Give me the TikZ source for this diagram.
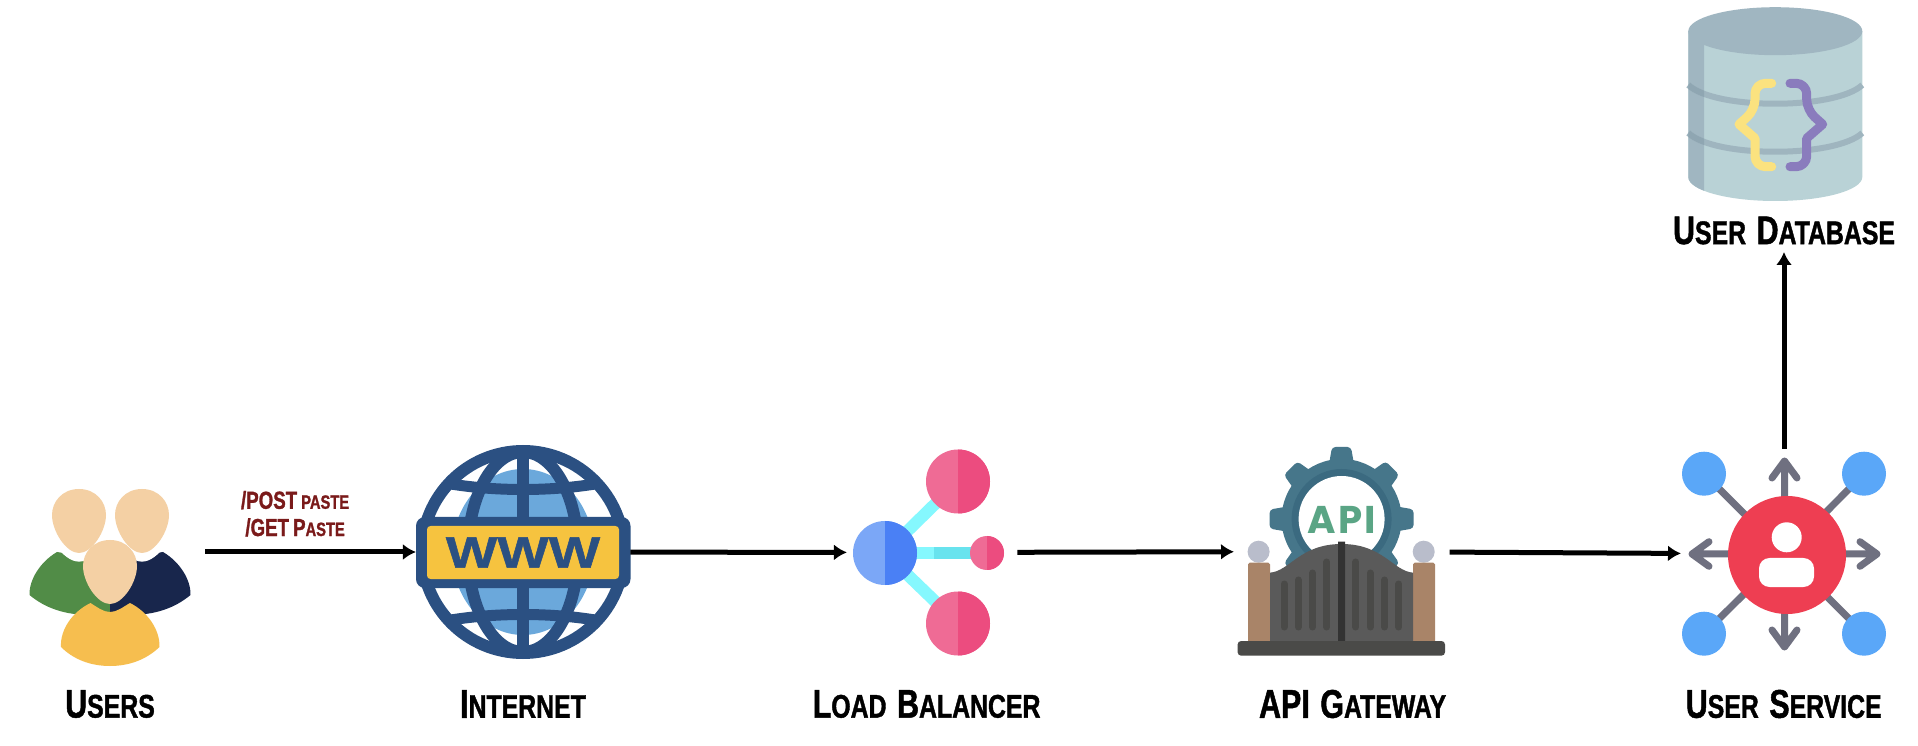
\documentclass[tikz,border=0pt]{standalone}
\usepackage{fontspec}
\usepackage{tikz}
\usetikzlibrary{calc, arrows.meta, positioning}

\newfontfamily\lblfont[FakeStretch=0.76,BoldFeatures={FakeBold=1.2}]{Liberation Sans}
\newfontfamily\apifont[LetterSpace=6]{Poppins}
\newfontfamily\wwwfont[FakeBold=1]{Liberation Sans Bold}
\def\pxu{0.02cm}
% big first letter, smaller rest
\newcommand{\lbltxt}[2]{{\fontsize{22.8}{24}\selectfont #1}{\fontsize{18.6}{20}\selectfont\MakeUppercase{#2}}}
\newcommand{\routetxt}[2]{{\fontsize{14}{16}\selectfont #1}{\fontsize{11}{16}\selectfont\MakeUppercase{#2}}}
\newcommand{\wgap}{\hspace{6pt}}

\definecolor{skin}{HTML}{F4D0A4}
\definecolor{shirtgreen}{HTML}{518C47}
\definecolor{shirtnavy}{HTML}{18264C}
\definecolor{shirtyellow}{HTML}{F6BE4F}
\definecolor{globenavy}{HTML}{2B5082}
\definecolor{globeblue}{HTML}{6BA8DB}
\definecolor{banneryellow}{HTML}{F6C33F}
\definecolor{routered}{HTML}{7A1A1A}
\definecolor{nodeblueA}{HTML}{7BA7F7}
\definecolor{nodeblueB}{HTML}{4A80F5}
\definecolor{nodepinkA}{HTML}{EF6B95}
\definecolor{nodepinkB}{HTML}{EC4C7F}
\definecolor{linkcyanA}{HTML}{85F8FE}
\definecolor{linkcyanB}{HTML}{68E3EE}
\definecolor{gearouter}{HTML}{46768A}
\definecolor{gearinner}{HTML}{3B6A80}
\definecolor{gategrey}{HTML}{5A5A5A}
\definecolor{gatebar}{HTML}{4A4A48}
\definecolor{gatepost}{HTML}{333333}
\definecolor{pillar}{HTML}{A98468}
\definecolor{ballgrey}{HTML}{B9BDCB}
\definecolor{apigreen}{HTML}{5AA585}
\definecolor{svcred}{HTML}{EE3E52}
\definecolor{svcblue}{HTML}{5AA7F8}
\definecolor{svcgrey}{HTML}{6F7080}
\definecolor{dbbody}{HTML}{B9D2D6}
\definecolor{dbtop}{HTML}{A0B6C1}
\definecolor{dbband}{HTML}{9FB5BF}
\definecolor{dbbandB}{HTML}{8FA6B2}
\definecolor{braceyellow}{HTML}{FBE27F}
\definecolor{bracepurple}{HTML}{8A7CBD}

\begin{document}
\begin{tikzpicture}[x=0.02cm, y=-0.02cm, >={Latex[length=2.6mm,width=3.2mm]}]
	\tikzstyle{iconbox} = [draw=none, inner sep=0pt, outer sep=0pt, minimum height=30*\pxu]
	\tikzstyle{lbl} = [font=\lblfont\bfseries, inner sep=0pt, text=black]
	\tikzstyle{flow} = [->, line width=5*\pxu, black]
	\tikzstyle{route} = [font=\lblfont\bfseries, text=routered, align=center, inner sep=0pt]
	\tikzstyle{grayarm} = [draw=svcgrey, line width=7*\pxu, line cap=round, line join=round]
	\tikzstyle{gatestripe} = [draw=gatebar, line width=7*\pxu, line cap=round]
	\tikzstyle{brace} = [line width=9*\pxu, line cap=round, line join=round, rounded corners=6pt]

	\useasboundingbox (0,0) rectangle (1918,746);
	\fill[white] (0,0) rectangle (1918,746);

	% users
	\fill[shirtgreen] (57,552) .. controls (40,562) and (29,580) .. (29.5,595) .. controls (45,608) and (65,615) .. (90,615) -- (110,612) -- (110,560) -- cycle;
	\fill[shirtnavy] (163,552) .. controls (180,562) and (191,580) .. (190.5,595) .. controls (175,608) and (155,615) .. (130,615) -- (110,612) -- (110,560) -- cycle;
	\foreach \hx/\hy/\hs/\hc in {79/521/1.27/white, 142/521/1.27/white, 79/521/1/skin, 142/521/1/skin} {
		\fill[\hc, shift={(\hx,\hy)}, scale=\hs] (0,-32) .. controls (17,-32) and (27,-19) .. (27,-6) .. controls (27,10) and (13,32) .. (0,32) .. controls (-13,32) and (-27,10) .. (-27,-6) .. controls (-27,-19) and (-17,-32) .. (0,-32) -- cycle;
	}
	\fill[shirtyellow] (90.5,603) .. controls (97,607) and (103,612) .. (110,612) .. controls (117,612) and (123,607) .. (130,603) .. controls (148,612) and (160,630) .. (159.5,647) .. controls (147,659) and (130,666) .. (110,666) .. controls (90,666) and (73,659) .. (61,647) .. controls (60,630) and (72,612) .. (90.5,603) -- cycle;
	\fill[skin, shift={(110,572)}] (0,-32) .. controls (17,-32) and (27,-19) .. (27,-6) .. controls (27,10) and (13,32) .. (0,32) .. controls (-13,32) and (-27,10) .. (-27,-6) .. controls (-27,-19) and (-17,-32) .. (0,-32) -- cycle;

	% internet
	\fill[white] (523,552) circle [radius=101];
	\fill[globeblue] (523,552) ellipse [x radius=71, y radius=83];
	\draw[globenavy, line width=12*\pxu] (523,552) circle [radius=101];
	\begin{scope}
		\clip (523,552) circle [radius=101];
		\draw[globenavy, line width=12*\pxu] (523,552) ellipse [x radius=55, y radius=100];
		\draw[globenavy, line width=12*\pxu] (523,450) -- (523,654);
		\draw[globenavy, line width=11*\pxu] (440,482) .. controls (490,492) and (556,492) .. (606,482);
		\draw[globenavy, line width=11*\pxu] (440,622) .. controls (490,612) and (556,612) .. (606,622);
	\end{scope}
	\fill[globenavy, rounded corners=5pt] (416,517) rectangle (630.5,588);
	\fill[banneryellow, rounded corners=2pt] (427,526) rectangle (619,579);
	\node[font=\wwwfont\fontsize{25}{25}\selectfont, text=globenavy, inner sep=0pt, xscale=1.24] at (523,552.5) (wwwtext) {WWW};

	% load balancer
	\draw[linkcyanA, line width=12*\pxu] (885,553) -- (958,481.5);
	\draw[linkcyanA, line width=12*\pxu] (885,553) -- (958,623.5);
	\draw[linkcyanA, line width=12*\pxu] (885,553) -- (934,553);
	\draw[linkcyanB, line width=12*\pxu] (934,553) -- (987,553);
	\foreach \cx/\cy/\cr/\ca/\cb in {885/553/32/nodeblueA/nodeblueB, 958/481.5/32/nodepinkA/nodepinkB, 958/623.5/32/nodepinkA/nodepinkB, 987/553/17/nodepinkA/nodepinkB} {
		\fill[\ca] (\cx,\cy) circle [radius=\cr];
		\begin{scope}
			\clip (\cx,\cy-40) rectangle (\cx+40,\cy+40);
			\fill[\cb] (\cx,\cy) circle [radius=\cr];
		\end{scope}
	}

	% api gateway
	\foreach \a in {0,45,...,315} {
		\fill[gearouter, rounded corners=2pt, rotate around={\a:(1341.6,519)}] (1328,470) -- (1332,447) -- (1351,447) -- (1355,470) -- cycle;
	}
	\fill[gearouter] (1341.6,519) circle [radius=60];
	\fill[gearinner] (1341.6,519) circle [radius=50];
	\fill[white] (1341.6,519) circle [radius=43];
	\node[font=\apifont\bfseries\fontsize{22}{22}\selectfont, text=apigreen, inner sep=0pt] at (1341.6,520) (apitext) {API};
	\fill[ballgrey] (1258.6,551.7) circle [radius=11];
	\fill[ballgrey] (1423.7,551.7) circle [radius=11];
	\fill[pillar, rounded corners=1pt] (1248,562.7) rectangle (1270,645);
	\fill[pillar, rounded corners=1pt] (1413,562.7) rectangle (1435,645);
	\fill[gategrey] (1270,572.7) .. controls (1290,571) and (1300,544) .. (1341.6,544) .. controls (1383,544) and (1393,571) .. (1413,572.7) -- (1413,645) -- (1270,645) -- cycle;
	\foreach \bx/\by in {1284/584, 1298.4/580, 1312.6/573, 1326.9/562, 1355.9/562, 1370.2/573, 1384.5/580, 1398.8/584} {
		\draw[gatestripe] (\bx,\by) -- (\bx,627);
	}
	\fill[gatepost] (1338,545) -- (1338,541.7) -- (1345,541.7) -- (1345,641) -- (1338,641) -- cycle;
	\fill[gatebar, rounded corners=2pt] (1237.6,641) rectangle (1445,655.7);

	% user service
	\foreach \dx/\dy in {1704/473.7, 1864/473.7, 1704/633.7, 1864/633.7} {
		\draw[svcgrey, line width=7*\pxu] (1784.5,554) -- (\dx,\dy);
		\fill[svcblue] (\dx,\dy) circle [radius=22];
	}
	\draw[grayarm] (1784.5,554) -- (1784.5,461) (1772,478) -- (1784.5,461) -- (1797,478);
	\draw[grayarm] (1784.5,554) -- (1784.5,647) (1772,630) -- (1784.5,647) -- (1797,630);
	\draw[grayarm] (1784.5,554) -- (1692,554) (1709,541.7) -- (1692,554) -- (1709,566.3);
	\draw[grayarm] (1784.5,554) -- (1877,554) (1860,541.7) -- (1877,554) -- (1860,566.3);
	\fill[svcred] (1787,555) circle [radius=59];
	\fill[white] (1786.7,537.3) circle [radius=15];
	\fill[white, rounded corners=6pt] (1759,558) rectangle (1814,587);

	% user database
	\fill[dbbody] (1688.3,31.2) -- (1688.3,177) arc [start angle=180, end angle=360, x radius=87, y radius=-24] -- (1862.3,31.2) -- cycle;
	\begin{scope}
		\clip (1688.3,31.2) rectangle (1704,210);
		\fill[dbtop] (1688.3,31.2) -- (1688.3,177) arc [start angle=180, end angle=360, x radius=87, y radius=-24] -- (1862.3,31.2) -- cycle;
	\end{scope}
	\fill[dbtop] (1775.3,31.2) ellipse [x radius=87, y radius=24];
	\draw[dbband, line width=6*\pxu] (1688.3,85) .. controls (1715,110) and (1835,110) .. (1862.3,85);
	\draw[dbband, line width=6*\pxu] (1688.3,133) .. controls (1715,158) and (1835,158) .. (1862.3,133);
	\begin{scope}
		\clip (1688.3,31.2) rectangle (1704,210);
		\draw[dbbandB, line width=6*\pxu] (1688.3,85) .. controls (1715,110) and (1835,110) .. (1862.3,85);
		\draw[dbbandB, line width=6*\pxu] (1688.3,133) .. controls (1715,158) and (1835,158) .. (1862.3,133);
	\end{scope}
	\draw[brace, braceyellow] (1771.7,83.3) -- (1755,83.3) -- (1755,110) [sharp corners] -- (1739,124.3) -- (1755,138.3) [rounded corners=6pt] -- (1755,166.7) -- (1771.7,166.7);
	\draw[brace, bracepurple] (1790,83.3) -- (1806.7,83.3) -- (1806.7,110) [sharp corners] -- (1822.7,124.3) -- (1806.7,138.3) [rounded corners=6pt] -- (1806.7,166.7) -- (1790,166.7);

	% anchors for the connectors
	\node[iconbox, minimum width=175*\pxu] at (117.5,552) (users) {};
	\node[iconbox, minimum width=214.5*\pxu] at (523.2,552) (internet) {};
	\node[iconbox, minimum width=170.5*\pxu] at (932.2,552.5) (balancer) {};
	\node[iconbox, minimum width=215.6*\pxu] at (1341.8,551.5) (gateway) {};
	\node[iconbox, minimum width=206*\pxu, minimum height=210*\pxu] at (1784,554) (service) {};
	\node[iconbox, minimum width=222*\pxu, minimum height=244*\pxu] at (1784,130) (database) {};

	\node[lbl] at (110,704) (userslbl) {\lbltxt{U}{sers}};
	\node[lbl] at (523,704) (internetlbl) {\lbltxt{I}{nternet}};
	\node[lbl] at (926.6,704) (balancerlbl) {\lbltxt{L}{oad}\wgap\lbltxt{B}{alancer}};
	\node[lbl] at (1352.6,704) (gatewaylbl) {\lbltxt{API}{}\wgap\lbltxt{G}{ateway}};
	\node[lbl] at (1783.7,704) (servicelbl) {\lbltxt{U}{ser}\wgap\lbltxt{S}{ervice}};
	\node[lbl] at (1784,230.5) (databaselbl) {\lbltxt{U}{ser}\wgap\lbltxt{D}{atabase}};

	\path[flow]
	(users)	edge	node[route, pos=0.427, above=0.26cm] (routelbl) {\routetxt{/POST}{ paste}\\[3.5pt]\routetxt{/GET}{ }\routetxt{P}{aste}}	(internet)
	(internet)	edge	(balancer)
	(balancer)	edge	(gateway)
	(gateway)	edge	(service)
	(service)	edge	(database);
\end{tikzpicture}
\end{document}
